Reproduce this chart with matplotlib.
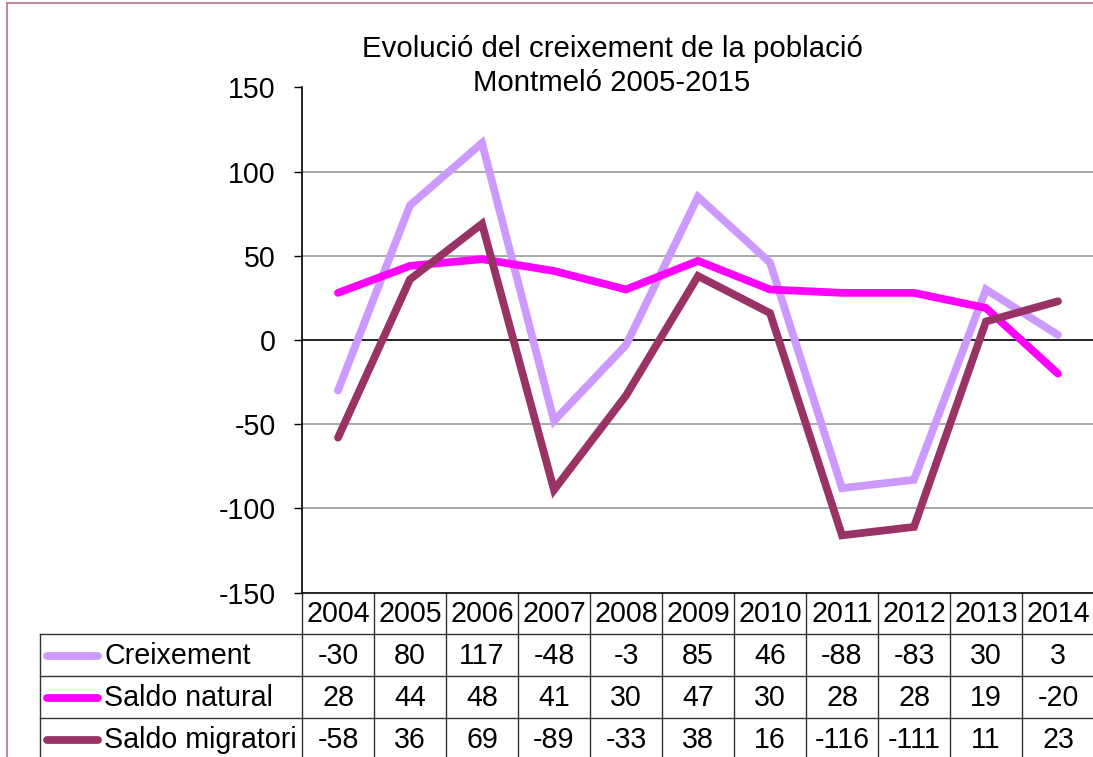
import matplotlib
matplotlib.use("Agg")
import matplotlib.pyplot as plt
import matplotlib.transforms as mtransforms
from matplotlib.lines import Line2D

plt.rcParams['font.family'] = ['Liberation Sans', 'DejaVu Sans']

years = ['2004', '2005', '2006', '2007', '2008', '2009', '2010', '2011', '2012', '2013', '2014']
creixement = [-30, 80, 117, -48, -3, 85, 46, -88, -83, 30, 3]
saldo_natural = [28, 44, 48, 41, 30, 47, 30, 28, 28, 19, -20]
saldo_migratori = [-58, 36, 69, -89, -33, 38, 16, -116, -111, 11, 23]

series_names = ['Creixement', 'Saldo natural', 'Saldo migratori']
series_values = [creixement, saldo_natural, saldo_migratori]
series_colors = ['#CC99FF', '#FF00FF', '#993366']

title_lines = ['Evolució del creixement de la població', 'Montmeló 2005-2015']

W, H = 1093, 757
FS = 20.6
fig = plt.figure(figsize=(W / 100, H / 100), dpi=100)

def fx(px):
    return px / W

def fy(py):
    return 1 - py / H

# outer chart border (pink)
fig.add_artist(Line2D([fx(7), fx(7)], [fy(3), fy(757)], color='#C07090', lw=1.2))
fig.add_artist(Line2D([fx(7), 1], [fy(3), fy(3)], color='#C07090', lw=1.2))

left_px, right_px = 302, 302 + 11 * 72
top_px, bot_px = 87.4, 592.6
ax = fig.add_axes([fx(left_px), fy(bot_px), fx(right_px - left_px), (bot_px - top_px) / H])

x = list(range(len(years)))
for name, vals, col in zip(series_names, series_values, series_colors):
    ax.plot(x, vals, color=col, lw=5.6, solid_capstyle='round', solid_joinstyle='miter', zorder=3)

ax.set_xlim(-0.5, len(years) - 0.5)
ax.set_ylim(-150, 150)
ax.set_yticks([-150, -100, -50, 0, 50, 100, 150])
ax.set_yticklabels(['-150', '-100', '-50', '0', '50', '100', '150'], fontsize=FS)
ax.tick_params(axis='y', length=6, width=1, pad=13, direction='out')
ax.set_xticks([])
for v in [-100, -50, 50, 100]:
    ax.axhline(v, color='#999999', lw=1.2, zorder=1)
ax.axhline(0, color='black', lw=1.2, zorder=2)
for s in ['top', 'right']:
    ax.spines[s].set_visible(False)
ax.spines['left'].set_linewidth(1.2)
ax.spines['bottom'].set_linewidth(1.2)
ax.patch.set_alpha(0)

# title
fig.text(fx(612), fy(49), title_lines[0], ha='center', va='center', fontsize=21.2)
fig.text(fx(612), fy(83), title_lines[1], ha='center', va='center', fontsize=21.2)

# data table
trans = mtransforms.blended_transform_factory(ax.transData, fig.transFigure)
row_edges = [592.6, 634, 676, 718, 770]
lc = '#333333'
for i in range(len(years) + 1):
    ax.add_artist(Line2D([i - 0.5, i - 0.5], [fy(row_edges[0]), fy(row_edges[-1])],
                         transform=trans, color=lc, lw=1, clip_on=False))
for r in row_edges[1:4]:
    fig.add_artist(Line2D([fx(40), 1], [fy(r), fy(r)], color=lc, lw=1))
fig.add_artist(Line2D([fx(40), fx(40)], [fy(row_edges[1]), 0], color=lc, lw=1))

for i, yr in enumerate(years):
    ax.text(i, fy((row_edges[0] + row_edges[1]) / 2 + 1), yr, transform=trans,
            ha='center', va='center', fontsize=FS, clip_on=False)
for r, (name, vals, col) in enumerate(zip(series_names, series_values, series_colors)):
    yc = fy((row_edges[r + 1] + row_edges[r + 2]) / 2 + 1) if r < 2 else fy(740)
    fig.add_artist(Line2D([fx(47), fx(98)], [yc, yc], color=col, lw=5.6, solid_capstyle='round'))
    fig.text(fx(104), yc, name, ha='left', va='center', fontsize=FS)
    for i, v in enumerate(vals):
        ax.text(i, yc, str(v), transform=trans, ha='center', va='center', fontsize=FS, clip_on=False)

fig.savefig('out.png', dpi=100)
